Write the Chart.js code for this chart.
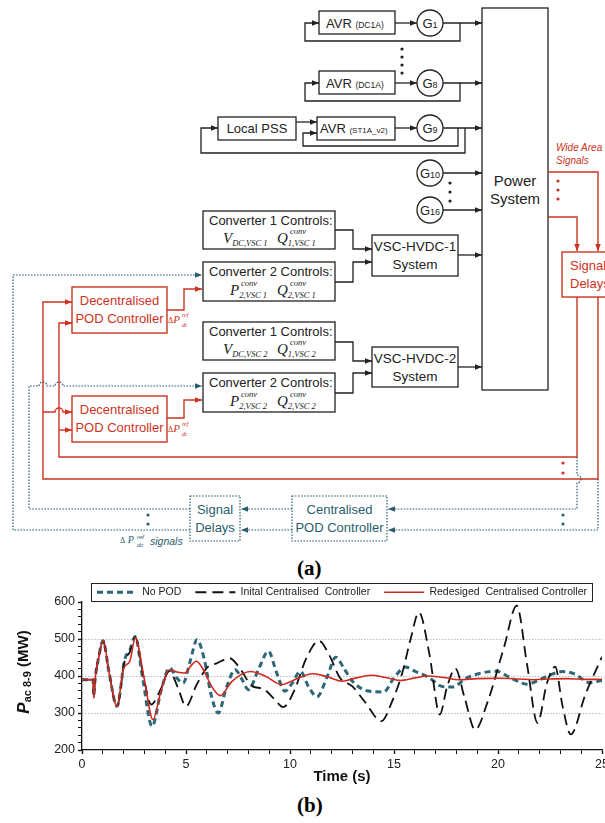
<!DOCTYPE html>
<html>
<head>
<meta charset="utf-8">
<script src="https://cdn.jsdelivr.net/npm/chart.js@4.4.1/dist/chart.umd.min.js"></script>
<style>
html, body { margin: 0; padding: 0; background: #fff; overflow: hidden; }
#page { position: relative; width: 605px; height: 823px; overflow: hidden; }
#diagram { position: absolute; left: 0; top: 0; }
#wrap { position: absolute; left: 0; top: 573px; width: 615px; height: 217px; }
.cap { position: absolute; left: 297px; font: bold 21px "Liberation Serif", "DejaVu Serif", serif; color: #000; }
</style>
</head>
<body>
<div id="page">
<svg id="diagram" width="605" height="556" viewBox="0 0 605 556" font-family="'Liberation Sans', Arial, sans-serif">
  <defs>
    <marker id="ak" viewBox="0 0 10 10" refX="10" refY="5" markerWidth="7" markerHeight="7" orient="auto" markerUnits="userSpaceOnUse"><path d="M0,1 L10,5 L0,9 z" fill="#222"/></marker>
    <marker id="ar" viewBox="0 0 10 10" refX="10" refY="5" markerWidth="7" markerHeight="7" orient="auto" markerUnits="userSpaceOnUse"><path d="M0,1 L10,5 L0,9 z" fill="#cc3322"/></marker>
    <marker id="at" viewBox="0 0 10 10" refX="10" refY="5" markerWidth="7" markerHeight="7" orient="auto" markerUnits="userSpaceOnUse"><path d="M0,1 L10,5 L0,9 z" fill="#2a5d6e"/></marker>
  </defs>

  <!-- generators -->
  <g stroke="#222" stroke-width="1.3" fill="none">
    <rect x="319" y="11" width="76" height="23"/>
    <rect x="319" y="71" width="76" height="23"/>
    <rect x="317" y="117" width="78" height="23"/>
    <rect x="218" y="117" width="78" height="23"/>
    <circle cx="430" cy="23" r="13"/>
    <circle cx="430" cy="83" r="13"/>
    <circle cx="430" cy="128" r="13"/>
    <circle cx="430" cy="173" r="13"/>
    <circle cx="430" cy="210" r="13"/>
    <rect x="482" y="8" width="66" height="382"/>
    <path d="M395,23 H417" marker-end="url(#ak)"/>
    <path d="M443,23 H482" marker-end="url(#ak)"/>
    <path d="M460,23 V41 H305 V23 H319" marker-end="url(#ak)"/>
    <path d="M395,83 H417" marker-end="url(#ak)"/>
    <path d="M443,83 H482" marker-end="url(#ak)"/>
    <path d="M460,83 V101 H305 V83 H319" marker-end="url(#ak)"/>
    <path d="M395,128 H417" marker-end="url(#ak)"/>
    <path d="M443,128 H482" marker-end="url(#ak)"/>
    <path d="M458,128 V146 H303 V133 H317" marker-end="url(#ak)"/>
    <path d="M465,128 V153 H201 V128 H218" marker-end="url(#ak)"/>
    <path d="M296,122 H317" marker-end="url(#ak)"/>
    <path d="M443,173 H482" marker-end="url(#ak)"/>
    <path d="M443,210 H482" marker-end="url(#ak)"/>
  </g>
  <g fill="#222">
    <circle cx="402" cy="49" r="1.6"/><circle cx="402" cy="57" r="1.6"/><circle cx="402" cy="65" r="1.6"/><circle cx="402" cy="73" r="1.6"/>
    <circle cx="450" cy="183" r="1.6"/><circle cx="450" cy="192" r="1.6"/><circle cx="450" cy="201" r="1.6"/>
  </g>
  <g fill="#222" font-size="13">
    <text x="326" y="27.5">AVR <tspan font-size="8.5">(DC1A)</tspan></text>
    <text x="326" y="87.5">AVR <tspan font-size="8.5">(DC1A)</tspan></text>
    <text x="320" y="132.5">AVR <tspan font-size="8">(ST1A_v2)</tspan></text>
    <text x="257" y="133" text-anchor="middle">Local PSS</text>
    <text x="430" y="27.5" text-anchor="middle">G<tspan font-size="9">1</tspan></text>
    <text x="430" y="87.5" text-anchor="middle">G<tspan font-size="9">8</tspan></text>
    <text x="430" y="132.5" text-anchor="middle">G<tspan font-size="9">9</tspan></text>
    <text x="430" y="177.5" text-anchor="middle">G<tspan font-size="9">10</tspan></text>
    <text x="430" y="214.5" text-anchor="middle">G<tspan font-size="9">16</tspan></text>
    <text x="515" y="186" text-anchor="middle" font-size="15">Power</text>
    <text x="515" y="204" text-anchor="middle" font-size="15">System</text>
  </g>

  <!-- converters and HVDC links -->
  <g stroke="#222" stroke-width="1.3" fill="none">
    <rect x="203" y="211" width="132" height="38"/>
    <rect x="203" y="262" width="132" height="39"/>
    <rect x="203" y="322" width="132" height="38"/>
    <rect x="203" y="373" width="132" height="39"/>
    <rect x="372" y="235" width="86" height="41"/>
    <rect x="372" y="347" width="86" height="40"/>
    <path d="M335,230 H353 V249 H372" marker-end="url(#ak)"/>
    <path d="M335,282 H353 V262 H372" marker-end="url(#ak)"/>
    <path d="M458,255 H482" marker-end="url(#ak)"/>
    <path d="M335,342 H353 V361 H372" marker-end="url(#ak)"/>
    <path d="M335,393 H353 V373 H372" marker-end="url(#ak)"/>
    <path d="M458,367 H482" marker-end="url(#ak)"/>
  </g>
  <g fill="#222" font-size="13">
    <text x="209" y="225">Converter 1 Controls:</text>
    <text x="209" y="276">Converter 2 Controls:</text>
    <text x="209" y="336">Converter 1 Controls:</text>
    <text x="209" y="387">Converter 2 Controls:</text>
    <text x="415" y="251" text-anchor="middle" font-size="13.5">VSC-HVDC-1</text>
    <text x="415" y="269" text-anchor="middle" font-size="13.5">System</text>
    <text x="415" y="363" text-anchor="middle" font-size="13.5">VSC-HVDC-2</text>
    <text x="415" y="381" text-anchor="middle" font-size="13.5">System</text>
  </g>
  <g fill="#222" font-family="'Liberation Serif', 'DejaVu Serif', serif" font-style="italic">
    <text x="223" y="243" font-size="15">V<tspan font-size="8.5" dy="3">DC,VSC  1</tspan></text>
    <text x="277" y="243" font-size="15">Q<tspan font-size="8.5" dy="3">1,VSC  1</tspan></text>
    <text x="290" y="234" font-size="8.5">conv</text>
    <text x="230" y="295" font-size="15">P<tspan font-size="8.5" dy="3">2,VSC  1</tspan></text>
    <text x="241" y="286" font-size="8.5">conv</text>
    <text x="277" y="295" font-size="15">Q<tspan font-size="8.5" dy="3">2,VSC  1</tspan></text>
    <text x="290" y="286" font-size="8.5">conv</text>
    <text x="223" y="354" font-size="15">V<tspan font-size="8.5" dy="3">DC,VSC  2</tspan></text>
    <text x="277" y="354" font-size="15">Q<tspan font-size="8.5" dy="3">1,VSC  2</tspan></text>
    <text x="290" y="345" font-size="8.5">conv</text>
    <text x="230" y="406" font-size="15">P<tspan font-size="8.5" dy="3">2,VSC  2</tspan></text>
    <text x="241" y="397" font-size="8.5">conv</text>
    <text x="277" y="406" font-size="15">Q<tspan font-size="8.5" dy="3">2,VSC  2</tspan></text>
    <text x="290" y="397" font-size="8.5">conv</text>
  </g>

  <!-- wide area signals (red) -->
  <g stroke="#cc3322" stroke-width="1.4" fill="none">
    <path d="M548,172 H598 V251" marker-end="url(#ar)"/>
    <path d="M548,217 H577 V251" marker-end="url(#ar)"/>
    <rect x="562" y="252" width="60" height="45"/>
    <path d="M577,297 V457 H59 V323 H72" marker-end="url(#ar)"/>
    <path d="M598,297 V479 H43 V302 H72" marker-end="url(#ar)"/>
    <path d="M43,412 H55 A4,4 0 0 1 63,412 H72" marker-end="url(#ar)"/>
    <path d="M59,430 H72" marker-end="url(#ar)"/>
    <rect x="72" y="287" width="95" height="46"/>
    <rect x="72" y="396" width="95" height="46"/>
    <path d="M167,310 H184 V289 H202" marker-end="url(#ar)"/>
    <path d="M167,418 H184 V400 H202" marker-end="url(#ar)"/>
  </g>
  <g fill="#cc3322">
    <circle cx="558" cy="181" r="1.6"/><circle cx="558" cy="190" r="1.6"/><circle cx="558" cy="199" r="1.6"/>
    <circle cx="563" cy="463" r="1.6"/><circle cx="563" cy="473" r="1.6"/>
    <text x="556" y="151" font-size="10" font-style="italic">Wide Area</text>
    <text x="556" y="164" font-size="10" font-style="italic">Signals</text>
    <text x="570" y="270" font-size="13">Signal</text>
    <text x="570" y="288" font-size="13">Delays</text>
    <text x="119.5" y="305" font-size="13" text-anchor="middle">Decentralised</text>
    <text x="119.5" y="323" font-size="13" text-anchor="middle">POD Controller</text>
    <text x="119.5" y="414" font-size="13" text-anchor="middle">Decentralised</text>
    <text x="119.5" y="432" font-size="13" text-anchor="middle">POD Controller</text>
  </g>
  <g fill="#cc3322" font-family="'Liberation Serif', 'DejaVu Serif', serif" font-style="italic">
    <text x="168" y="323" font-size="11"><tspan font-size="8" font-style="normal">Δ</tspan>P</text>
    <text x="182" y="317" font-size="6">ref</text>
    <text x="182" y="327" font-size="6">dc</text>
    <text x="168" y="432" font-size="11"><tspan font-size="8" font-style="normal">Δ</tspan>P</text>
    <text x="182" y="426" font-size="6">ref</text>
    <text x="182" y="436" font-size="6">dc</text>
  </g>

  <!-- centralised controller (teal, dotted) -->
  <g stroke="#2a5d6e" stroke-width="1.2" fill="none" stroke-dasharray="1.6 1.4">
    <rect x="292" y="496" width="95" height="45"/>
    <rect x="190" y="496" width="50" height="45"/>
    <path d="M577,457 V475 A4,4 0 0 1 577,483 V509 H388" marker-end="url(#at)"/>
    <path d="M598,479 V530 H388" marker-end="url(#at)"/>
    <path d="M292,509 H241" marker-end="url(#at)"/>
    <path d="M292,530 H241" marker-end="url(#at)"/>
    <path d="M190,509 H29 V386 H39 A4,4 0 0 1 47,386 H55 A4,4 0 0 1 63,386 H202" marker-end="url(#at)"/>
    <path d="M190,530 H13 V275 H202" marker-end="url(#at)"/>
  </g>
  <g fill="#2a5d6e">
    <circle cx="563" cy="515" r="1.6"/><circle cx="563" cy="524" r="1.6"/>
    <circle cx="148" cy="515" r="1.6"/><circle cx="148" cy="524" r="1.6"/>
    <text x="339.5" y="514" font-size="13" text-anchor="middle">Centralised</text>
    <text x="339.5" y="532" font-size="13" text-anchor="middle">POD Controller</text>
    <text x="215" y="514" font-size="13" text-anchor="middle">Signal</text>
    <text x="215" y="532" font-size="13" text-anchor="middle">Delays</text>
    <text x="120" y="543" font-size="10" font-family="'Liberation Serif', serif" font-style="italic"><tspan font-size="8" font-style="normal">Δ</tspan> P</text>
    <text x="137" y="539" font-size="6" font-style="italic">ref</text>
    <text x="137" y="547" font-size="6" font-style="italic">dc</text>
    <text x="150" y="545" font-size="10.5" font-style="italic">signals</text>
  </g>
</svg>
<div class="cap" style="top:556px">(a)</div>
<div id="wrap"><canvas id="chart" width="615" height="217"></canvas></div>
<div class="cap" style="top:793px">(b)</div>
</div>

<script>
// time (s) and active power Pac 8-9 (MW)
const tNoPod = [0, 0.53, 0.57, 0.62, 0.8, 1.01, 1.3, 1.68, 2.05, 2.3, 2.56, 2.9, 3.37, 3.8, 4.21, 4.55, 4.86, 5.2, 5.53, 5.9, 6.2, 6.55, 6.95, 7.36, 7.7, 8.0, 8.5, 8.96, 9.35, 9.76, 10.1, 10.5, 10.9, 11.3, 11.8, 12.2, 12.6, 13.0, 13.7, 14.5, 15.0, 15.55, 16.0, 16.7, 17.3, 17.8, 18.5, 19.2, 19.9, 20.6, 21.4, 22.0, 22.6, 23.1, 23.7, 24.4, 25]
const pNoPod = [390, 390, 345, 385, 450, 495, 410, 318, 444, 470, 507, 400, 264, 360, 422, 395, 381, 440, 498, 440, 351, 300, 370, 417, 390, 363, 420, 467, 410, 359, 380, 413, 370, 344, 400, 451, 420, 386, 360, 357, 395, 424, 413, 395, 372, 370, 395, 408, 413, 395, 378, 390, 405, 412, 405, 382, 388]

const tInitial = [0, 0.53, 0.57, 0.62, 0.8, 1.01, 1.3, 1.68, 2.05, 2.3, 2.56, 2.95, 3.33, 3.75, 4.2, 4.6, 5.0, 5.5, 6.0, 6.5, 7.1, 7.6, 8.2, 8.7, 9.2, 9.68, 10.2, 10.8, 11.4, 11.9, 12.4, 13.0, 13.6, 14.4, 14.9, 15.4, 15.8, 16.2, 16.7, 17.2, 17.55, 17.95, 18.4, 18.9, 19.5, 20.3, 20.9, 21.4, 21.9, 22.35, 22.75, 23.1, 23.5, 24.2, 25]
const pInitial = [390, 390, 345, 385, 450, 495, 410, 318, 440, 465, 505, 400, 323, 360, 413, 370, 318, 375, 422, 435, 448, 420, 372, 366, 340, 316, 360, 450, 495, 455, 395, 372, 330, 278, 330, 409, 500, 572, 460, 296, 370, 420, 340, 255, 330, 480, 590, 430, 273, 380, 425, 320, 242, 350, 452]

const tRedesigned = [0, 0.53, 0.57, 0.62, 0.8, 1.01, 1.3, 1.68, 2.0, 2.3, 2.56, 3.0, 3.41, 3.8, 4.2, 4.6, 4.95, 5.2, 5.5, 5.9, 6.2, 6.65, 7.2, 8.1, 8.8, 9.6, 10.3, 11.1, 11.8, 12.5, 13.2, 13.9, 14.6, 15.3, 16.0, 16.6, 17.4, 18.1, 19.0, 20.1, 21.0, 21.7, 22.5, 23.3, 24.2, 25]
const pRedesigned = [390, 390, 340, 385, 450, 496, 410, 318, 420, 440, 503, 390, 282, 360, 417, 410, 408, 425, 440, 410, 375, 347, 385, 412, 400, 377, 392, 406, 398, 386, 395, 402, 396, 388, 395, 400, 396, 390, 393, 394, 392, 390, 392, 393, 391, 391]

const seriesLabels = ['No POD', 'Inital Centralised  Controller', 'Redesiged  Centralised Controller']
const gridValues = [300, 400, 500]

const toPoints = (ts, ps) => ts.map((t, i) => ({ x: t, y: ps[i] }))

Chart.defaults.font.family = '"Liberation Sans", Arial, sans-serif'
Chart.defaults.color = '#222'

// draws the rotated y title with a subscript
const yTitle = {
    id: 'yTitle',
    afterDraw(chart) {
        const { ctx } = chart
        const parts = [
            { text: 'P', font: 'italic bold 17px "Liberation Sans"', dy: 0 },
            { text: 'ac 8-9', font: 'bold 11px "Liberation Sans"', dy: 4 },
            { text: ' (MW)', font: 'bold 15px "Liberation Sans"', dy: 0 }
        ]
        ctx.save()
        let total = 0
        parts.forEach(p => { ctx.font = p.font; p.w = ctx.measureText(p.text).width; total += p.w })
        ctx.translate(24, 99)
        ctx.rotate(-Math.PI / 2)
        ctx.fillStyle = '#111'
        ctx.textBaseline = 'middle'
        let x = -total / 2
        parts.forEach(p => {
            ctx.font = p.font
            ctx.fillText(p.text, x, p.dy)
            x += p.w
        })
        ctx.restore()
    }
}

// frame round the legend
const legendFrame = {
    id: 'legendFrame',
    afterDraw(chart) {
        const boxes = chart.legend.legendHitBoxes
        if (!boxes || !boxes.length) return
        const left = Math.min(...boxes.map(b => b.left)) - 6
        const right = Math.max(...boxes.map(b => b.left + b.width)) + 5
        const top = boxes[0].top - 4
        const { ctx } = chart
        ctx.save()
        ctx.strokeStyle = '#222'
        ctx.lineWidth = 1
        ctx.strokeRect(Math.round(left) + 0.5, Math.round(top) + 0.5, Math.round(right - left), 18)
        ctx.restore()
    }
}

const chart = new Chart(document.getElementById('chart'), {
    type: 'line',
    data: {
        datasets: [
            {
                label: seriesLabels[0],
                data: toPoints(tNoPod, pNoPod),
                borderColor: '#2e6878',
                borderWidth: 3,
                borderDash: [6, 4],
                order: 2
            },
            {
                label: seriesLabels[1],
                data: toPoints(tInitial, pInitial),
                borderColor: '#111',
                borderWidth: 1.8,
                borderDash: [11, 6],
                order: 1
            },
            {
                label: seriesLabels[2],
                data: toPoints(tRedesigned, pRedesigned),
                borderColor: '#cc2a1e',
                borderWidth: 1.6,
                order: 0
            }
        ]
    },
    options: {
        responsive: false,
        animation: false,
        devicePixelRatio: 1,
        layout: { padding: { left: 0, right: 13, top: 0, bottom: 0 } },
        elements: {
            point: { radius: 0 },
            line: { cubicInterpolationMode: 'monotone', fill: false }
        },
        plugins: {
            tooltip: { enabled: false },
            legend: {
                position: 'top',
                fullSize: false,
                maxHeight: 29,
                labels: {
                    usePointStyle: true,
                    pointStyle: 'line',
                    pointStyleWidth: 40,
                    padding: 14,
                    color: '#222',
                    font: { size: 10.5 },
                    sort: (a, b) => a.datasetIndex - b.datasetIndex,
                    // point styles lose the line dash, so copy it from the dataset
                    generateLabels(c) {
                        return Chart.defaults.plugins.legend.labels.generateLabels(c).map(item => {
                            const ds = c.data.datasets[item.datasetIndex]
                            return { ...item, lineDash: ds.borderDash || [], lineWidth: ds.borderWidth, strokeStyle: ds.borderColor }
                        })
                    }
                }
            }
        },
        scales: {
            x: {
                type: 'linear',
                min: 0,
                max: 25,
                afterFit(scale) { scale.height = 40 },
                border: { display: true, color: '#111', width: 1.3 },
                grid: { drawOnChartArea: false, tickLength: 4, tickColor: '#111', tickWidth: c => (c.tick.value % 5 === 0 ? 1.4 : 1) },
                ticks: {
                    stepSize: 1,
                    autoSkip: false,
                    maxRotation: 0,
                    padding: 3,
                    color: '#222',
                    font: { size: 12.5 },
                    callback: v => (v % 5 === 0 ? v : '')
                },
                title: { display: true, text: 'Time (s)', color: '#111', font: { size: 15, weight: 'bold' }, padding: { top: 2, bottom: 4 } }
            },
            y: {
                min: 200,
                max: 600,
                afterFit(scale) { scale.width = 82 },
                border: { display: true, color: '#111', width: 1.3, dash: [1, 2] },
                grid: {
                    color: c => (gridValues.includes(c.tick.value) ? '#9a9a9a' : 'rgba(0,0,0,0)'),
                    tickLength: 4,
                    tickColor: '#111',
                    tickWidth: c => (c.tick.value % 100 === 0 ? 1.4 : 1)
                },
                ticks: {
                    stepSize: 20,
                    autoSkip: false,
                    padding: 3,
                    color: '#222',
                    font: { size: 12.5 },
                    callback: v => (v % 100 === 0 ? v : '')
                }
            }
        }
    },
    plugins: [yTitle, legendFrame]
})
</script>
</body>
</html>
